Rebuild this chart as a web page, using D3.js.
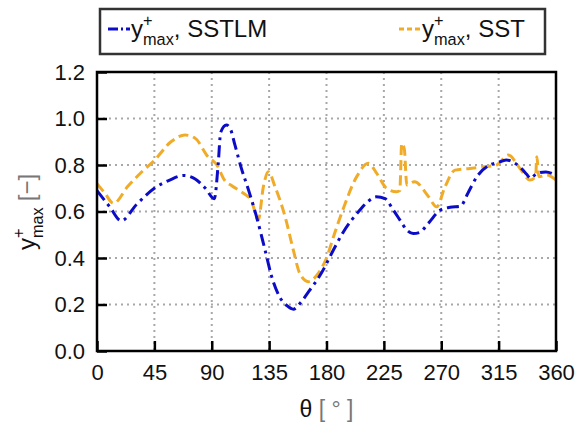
<!DOCTYPE html>
<html>
<head>
<meta charset="utf-8">
<script src="https://cdn.jsdelivr.net/npm/d3@7"></script>
<style>
  html, body { margin: 0; padding: 0; background: #fff; }
  svg { display: block; font-family: "Liberation Sans", Arial, Helvetica, sans-serif; }
</style>
</head>
<body>
<svg id="chart" width="577" height="426"></svg>
<script>
// Wall-normal y+max around the circumference, two turbulence models
const sstlmTheta = [0, 10, 19, 31, 45, 57, 68, 77, 85, 92, 95, 97, 101.5, 105, 108, 113, 119, 125, 132, 137, 143, 149, 154, 160, 166, 176, 185, 193, 206, 213, 219, 226, 232, 238, 243, 248, 253, 260, 269, 277, 285, 291, 298, 308, 314, 321, 327, 332, 337, 340, 345, 352, 360];
const sstlmValues = [0.69, 0.62, 0.56, 0.63, 0.70, 0.735, 0.755, 0.74, 0.70, 0.655, 0.80, 0.94, 0.972, 0.95, 0.89, 0.79, 0.69, 0.58, 0.43, 0.32, 0.235, 0.195, 0.18, 0.21, 0.255, 0.335, 0.43, 0.51, 0.605, 0.645, 0.663, 0.655, 0.61, 0.56, 0.52, 0.505, 0.51, 0.55, 0.605, 0.618, 0.622, 0.68, 0.75, 0.80, 0.81, 0.822, 0.81, 0.79, 0.76, 0.743, 0.764, 0.77, 0.755];

const sstTheta = [0, 6, 13, 24, 35, 45, 58, 69, 77, 87, 94, 100, 106, 111, 117, 121, 126.5, 130.5, 134.4, 139.6, 147.5, 154, 159, 165.7, 173.5, 180, 186, 193, 203.7, 212.8, 219.4, 227, 235, 237.5, 239, 241, 243, 249, 260, 266.4, 273, 280.8, 292.5, 303, 313.5, 322.6, 331.8, 339.6, 344, 345, 346.5, 352.7, 360];
const sstValues = [0.72, 0.68, 0.635, 0.707, 0.77, 0.82, 0.90, 0.929, 0.915, 0.836, 0.80, 0.735, 0.71, 0.692, 0.67, 0.649, 0.563, 0.707, 0.771, 0.707, 0.578, 0.434, 0.334, 0.298, 0.334, 0.40, 0.50, 0.61, 0.75, 0.807, 0.764, 0.70, 0.685, 0.69, 0.893, 0.87, 0.714, 0.728, 0.664, 0.62, 0.707, 0.778, 0.785, 0.792, 0.80, 0.843, 0.785, 0.735, 0.75, 0.835, 0.75, 0.757, 0.735];

const xTicks = [0, 45, 90, 135, 180, 225, 270, 315, 360];
const yTicks = [0.0, 0.2, 0.4, 0.6, 0.8, 1.0, 1.2];

const seriesNames = ["SSTLM", "SST"];
const seriesColors = ["#0c0cc8", "#f0ac28"];
const seriesDash = ["12,5,3,5", "10,5"];

const svg = d3.select("#chart");
const plot = { left: 97, right: 556, top: 72, bottom: 351 };

const x = d3.scaleLinear().domain([0, 360]).range([plot.left, plot.right]);
const y = d3.scaleLinear().domain([0, 1.2]).range([plot.bottom, plot.top]);

// dotted grid
const grid = svg.append("g");
grid.selectAll("line.gx").data(xTicks.slice(1, -1)).join("line")
  .attr("x1", d => x(d)).attr("x2", d => x(d))
  .attr("y1", plot.top).attr("y2", plot.bottom)
  .attr("stroke", "#a8a8a8").attr("stroke-width", 2).attr("stroke-dasharray", "2,4");
grid.selectAll("line.gy").data(yTicks.slice(1, -1)).join("line")
  .attr("y1", d => y(d)).attr("y2", d => y(d))
  .attr("x1", plot.left).attr("x2", plot.right)
  .attr("stroke", "#a8a8a8").attr("stroke-width", 2).attr("stroke-dasharray", "2,4");

// curves
const line = (th, vals) => d3.line()
  .x((d, i) => x(th[i]))
  .y(d => y(d))
  .curve(d3.curveMonotoneX)(vals);

svg.append("clipPath").attr("id", "clip").append("rect")
  .attr("x", plot.left).attr("y", plot.top)
  .attr("width", plot.right - plot.left).attr("height", plot.bottom - plot.top);

const curves = svg.append("g").attr("clip-path", "url(#clip)");
curves.append("path").attr("d", line(sstTheta, sstValues))
  .attr("fill", "none").attr("stroke", seriesColors[1]).attr("stroke-width", 3)
  .attr("stroke-dasharray", seriesDash[1]);
curves.append("path").attr("d", line(sstlmTheta, sstlmValues))
  .attr("fill", "none").attr("stroke", seriesColors[0]).attr("stroke-width", 3)
  .attr("stroke-dasharray", seriesDash[0]);

// axes with inward ticks
const xAxis = d3.axisBottom(x).tickValues(xTicks).tickSizeInner(-10).tickSizeOuter(0).tickPadding(13)
  .tickFormat(d3.format("d"));
const gx = svg.append("g").attr("transform", `translate(0,${plot.bottom})`).call(xAxis);
const yAxis = d3.axisLeft(y).tickValues(yTicks).tickSizeInner(-10).tickSizeOuter(0).tickPadding(12)
  .tickFormat(d3.format(".1f"));
const gy = svg.append("g").attr("transform", `translate(${plot.left},0)`).call(yAxis);

[gx, gy].forEach(g => {
  g.select(".domain").remove();
  g.selectAll(".tick line").attr("stroke", "#000").attr("stroke-width", 2.5);
  g.selectAll(".tick text").attr("font-size", 22).attr("fill", "#111")
    .attr("font-family", "'Liberation Sans', Arial, sans-serif");
});

// frame
svg.append("rect").attr("x", plot.left).attr("y", plot.top)
  .attr("width", plot.right - plot.left).attr("height", plot.bottom - plot.top)
  .attr("fill", "none").attr("stroke", "#000").attr("stroke-width", 2.5);

// y+max label builder: stacked "+" superscript and "max" subscript
function ymaxLabel(g, fs, ratio) {
  const t = g.append("text").attr("x", 0).attr("y", 0).attr("font-size", fs).attr("fill", "#111").text("y");
  const wy = t.node().getComputedTextLength();
  const sup = g.append("text").attr("x", wy).attr("y", -0.47 * fs).attr("font-size", ratio * fs).attr("fill", "#111").text("+");
  const sub = g.append("text").attr("x", wy).attr("y", 0.34 * fs).attr("font-size", ratio * fs).attr("fill", "#111").text("max");
  return wy + Math.max(sup.node().getComputedTextLength(), sub.node().getComputedTextLength());
}

// legend
svg.append("rect").attr("x", 100).attr("y", 9).attr("width", 445).attr("height", 45)
  .attr("fill", "#fff").attr("stroke", "#333").attr("stroke-width", 2.5);

const legendItems = [
  { name: seriesNames[0], color: seriesColors[0], dash: "10,3,2,3,6", x0: 108, x1: 130 },
  { name: seriesNames[1], color: seriesColors[1], dash: "5,3", x0: 399, x1: 421 }
];
legendItems.forEach(it => {
  svg.append("line").attr("x1", it.x0).attr("x2", it.x1).attr("y1", 29).attr("y2", 29)
    .attr("stroke", it.color).attr("stroke-width", 3).attr("stroke-dasharray", it.dash);
  const g = svg.append("g").attr("transform", `translate(${it.x1 + 1},37)`);
  const w = ymaxLabel(g, 24, 0.68);
  g.append("text").attr("x", w).attr("y", 0).attr("font-size", 24).attr("fill", "#111").text(", " + it.name);
});

// y-axis title
const yt = svg.append("g");
const ytInner = yt.append("g");
const wl = ymaxLabel(ytInner, 24, 0.68);
const br = ytInner.append("text").attr("x", wl + 6).attr("y", 0).attr("font-size", 24)
  .attr("fill", "#777").attr("font-weight", 300).text("[−]");
const wt = wl + 6 + br.node().getComputedTextLength();
ytInner.attr("transform", `translate(${-wt / 2},0)`);
yt.attr("transform", `translate(35,212) rotate(-90)`);

// x-axis title
const xt = svg.append("text").attr("x", (plot.left + plot.right) / 2).attr("y", 417)
  .attr("text-anchor", "middle").attr("font-size", 23).attr("fill", "#111");
xt.append("tspan").text("θ ");
xt.append("tspan").attr("fill", "#777").attr("font-weight", 300).text("[ ° ]");
</script>
</body>
</html>
